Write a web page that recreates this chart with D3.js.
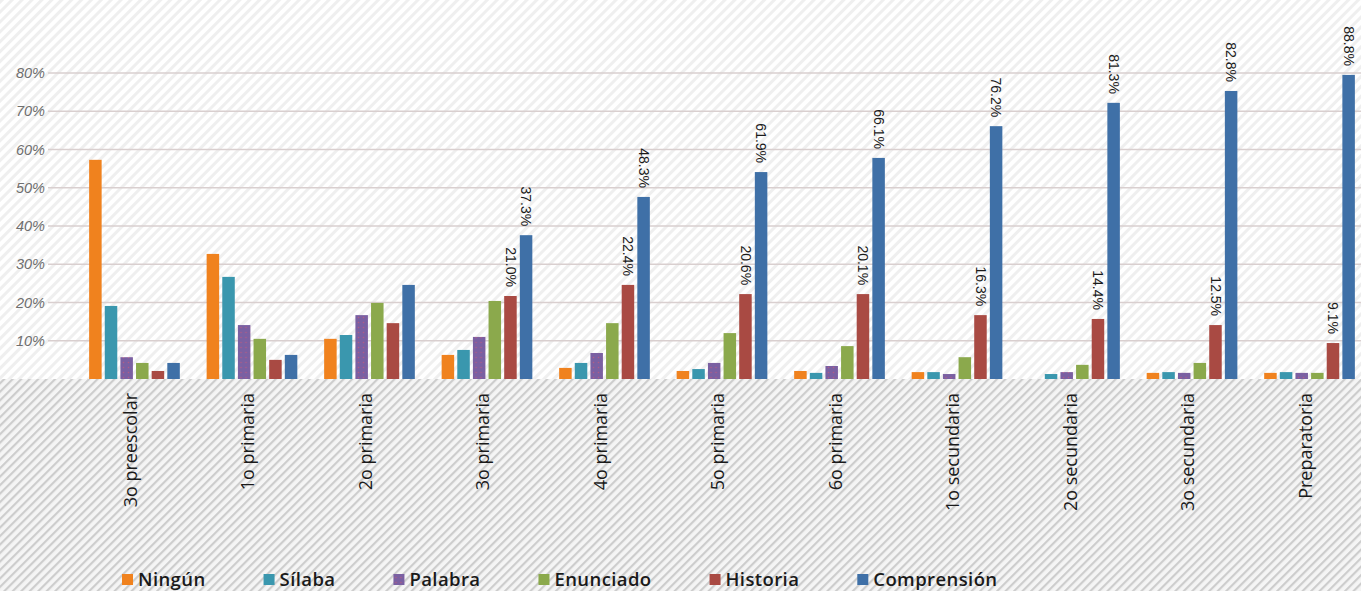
<!DOCTYPE html>
<html lang="es">
<head>
<meta charset="utf-8">
<title>Niveles de lectura por grado</title>
<script src="https://cdn.jsdelivr.net/npm/d3@7"></script>
<style>
  body { margin: 0; background: #fff; }
  svg { display: block; }
</style>
</head>
<body>
<script>
// categories and series
var grados = ["3o preescolar", "1o primaria", "2o primaria", "3o primaria", "4o primaria",
              "5o primaria", "6o primaria", "1o secundaria", "2o secundaria", "3o secundaria", "Preparatoria"];
var niveles = ["Ningún", "Sílaba", "Palabra", "Enunciado", "Historia", "Comprensión"];

// bar heights as drawn (percent)
var ningun      = [57.3, 32.7, 10.5, 6.3, 2.9, 2.1, 2.1, 1.8, 0, 1.6, 1.6];
var silaba      = [19.1, 26.7, 11.5, 7.6, 4.2, 2.6, 1.6, 1.8, 1.3, 1.8, 1.8];
var palabra     = [5.7, 14.1, 16.7, 11.0, 6.8, 4.2, 3.4, 1.3, 1.8, 1.6, 1.6];
var enunciado   = [4.2, 10.5, 19.9, 20.4, 14.6, 12.0, 8.6, 5.7, 3.7, 4.2, 1.6];
var historia    = [2.1, 5.0, 14.6, 21.7, 24.6, 22.2, 22.2, 16.7, 15.7, 14.1, 9.4];
var comprension = [4.2, 6.3, 24.6, 37.6, 47.6, 54.1, 57.8, 66.1, 72.2, 75.3, 79.5];

// value labels printed above bars
var etiquetasHistoria    = [null, null, null, "21.0%", "22.4%", "20.6%", "20.1%", "16.3%", "14.4%", "12.5%", "9.1%"];
var etiquetasComprension = [null, null, null, "37.3%", "48.3%", "61.9%", "66.1%", "76.2%", "81.3%", "82.8%", "88.8%"];

var yTicks = [10, 20, 30, 40, 50, 60, 70, 80];

var colores = ["#f0821e", "#3a97ae", "#7a60a2", "#8ba94c", "#a94a43", "#3f70a7"];

var series = [ningun, silaba, palabra, enunciado, historia, comprension];

// Dimensions
var w = 1361;
var h = 591;
var baseY = 379;
var topY = 73;   // position of 80%

var svg = d3.select("body").append("svg")
    .attr("width", w)
    .attr("height", h);

// Patterns for the striped background
var defs = svg.append("defs");

defs.append("pattern")
    .attr("id", "rayasClaras")
    .attr("patternUnits", "userSpaceOnUse")
    .attr("width", 7).attr("height", 7)
    .attr("patternTransform", "rotate(45)")
    .append("rect")
    .attr("width", 3).attr("height", 7)
    .attr("fill", "#efefef");

var pOscuro = defs.append("pattern")
    .attr("id", "rayasOscuras")
    .attr("patternUnits", "userSpaceOnUse")
    .attr("width", 6).attr("height", 6)
    .attr("patternTransform", "rotate(45)");
pOscuro.append("rect").attr("width", 6).attr("height", 6).attr("fill", "#f5f5f5");
pOscuro.append("rect").attr("width", 2.2).attr("height", 6).attr("fill", "#cdcdcd");

var pPalabra = defs.append("pattern")
    .attr("id", "puntosPalabra")
    .attr("patternUnits", "userSpaceOnUse")
    .attr("width", 5).attr("height", 5);
pPalabra.append("rect").attr("width", 5).attr("height", 5).attr("fill", colores[2]);
pPalabra.append("circle").attr("cx", 2.5).attr("cy", 2.5).attr("r", 0.8).attr("fill", "#b25c86");

// Background
svg.append("rect")
    .attr("width", w).attr("height", h)
    .attr("fill", "#fff");
svg.append("rect")
    .attr("width", w).attr("height", baseY)
    .attr("fill", "url(#rayasClaras)");
svg.append("rect")
    .attr("y", baseY).attr("width", w).attr("height", h - baseY)
    .attr("fill", "url(#rayasOscuras)");

// Scales
var yScale = d3.scaleLinear()
    .domain([0, 80])
    .range([baseY, topY]);

var x0 = d3.scaleBand()
    .domain(grados)
    .range([86, 1358])
    .paddingInner(0.175)
    .paddingOuter(0);

var x1 = d3.scaleBand()
    .domain(niveles)
    .range([0, x0.bandwidth()])
    .padding(0.2);

// Gridlines
svg.append("g")
    .selectAll("line")
    .data(yTicks)
    .enter()
    .append("line")
    .attr("x1", 48).attr("x2", w)
    .attr("y1", function(d) { return yScale(d); })
    .attr("y2", function(d) { return yScale(d); })
    .attr("stroke", "#d9cfcf")
    .attr("stroke-width", 1.5);

// Y axis labels
var yAxis = d3.axisLeft(yScale)
    .tickValues(yTicks)
    .tickSize(0)
    .tickPadding(0)
    .tickFormat(function(d) { return d + "%"; });

var gy = svg.append("g")
    .attr("transform", "translate(45,0)")
    .call(yAxis);
gy.select(".domain").remove();
gy.selectAll("text")
    .attr("fill", "#6e6e6e")
    .style("font-family", "Liberation Sans, Arial, sans-serif")
    .style("font-style", "italic")
    .style("font-size", "14.5px");

// Bars
var grupos = svg.append("g")
    .selectAll("g")
    .data(grados)
    .enter()
    .append("g")
    .attr("transform", function(d) { return "translate(" + x0(d) + ",0)"; });

grupos.selectAll("rect")
    .data(function(d, i) {
        return niveles.map(function(n, j) {
            return { nivel: n, valor: series[j][i], j: j };
        });
    })
    .enter()
    .append("rect")
    .attr("x", function(d) { return x1(d.nivel); })
    .attr("width", x1.bandwidth())
    .attr("y", function(d) { return yScale(d.valor); })
    .attr("height", function(d) { return baseY - yScale(d.valor); })
    .attr("fill", function(d) { return d.j === 2 ? "url(#puntosPalabra)" : colores[d.j]; });

// Value labels (rotated)
function etiquetas(lista, serie, nivel) {
    svg.append("g")
        .selectAll("text")
        .data(grados.map(function(g, i) { return { g: g, t: lista[i], v: serie[i] }; })
                    .filter(function(d) { return d.t; }))
        .enter()
        .append("text")
        .attr("transform", function(d) {
            var cx = x0(d.g) + x1(nivel) + x1.bandwidth() / 2;
            return "translate(" + cx + "," + (yScale(d.v) - 9) + ") rotate(90)";
        })
        .attr("text-anchor", "end")
        .attr("dy", "0.35em")
        .attr("fill", "#1a1a1a")
        .style("font-family", "Liberation Sans, Arial, sans-serif")
        .style("font-size", "14px")
        .text(function(d) { return d.t; });
}
etiquetas(etiquetasHistoria, historia, "Historia");
etiquetas(etiquetasComprension, comprension, "Comprensión");

// X axis labels
var xAxis = d3.axisBottom(x0).tickSize(0).tickPadding(0);
var gx = svg.append("g")
    .attr("transform", "translate(0," + baseY + ")")
    .call(xAxis);
gx.select(".domain").remove();
gx.selectAll("text")
    .attr("transform", "translate(-4,14) rotate(-90)")
    .attr("text-anchor", "end")
    .attr("x", 0).attr("y", 0)
    .attr("dy", "0.35em")
    .attr("fill", "#1a1a1a")
    .style("font-family", "Open Sans, sans-serif")
    .style("font-weight", "500")
    .style("font-size", "18px");

// Legend
var leyenda = svg.append("g").attr("transform", "translate(122,580)");
var posX = 0;
niveles.forEach(function(n, j) {
    var item = leyenda.append("g").attr("transform", "translate(" + posX + ",0)");
    item.append("rect")
        .attr("x", 0).attr("y", -6)
        .attr("width", 11).attr("height", 11)
        .attr("fill", j === 2 ? "url(#puntosPalabra)" : colores[j]);
    var t = item.append("text")
        .attr("x", 16).attr("y", 0)
        .attr("dy", "0.35em")
        .attr("fill", "#1a1a1a")
        .style("font-family", "Open Sans, sans-serif")
        .style("font-weight", "600")
        .style("font-size", "18.5px")
        .style("letter-spacing", "0.4px")
        .text(n);
    posX += 16 + t.node().getComputedTextLength() + 58;
});
</script>
</body>
</html>
